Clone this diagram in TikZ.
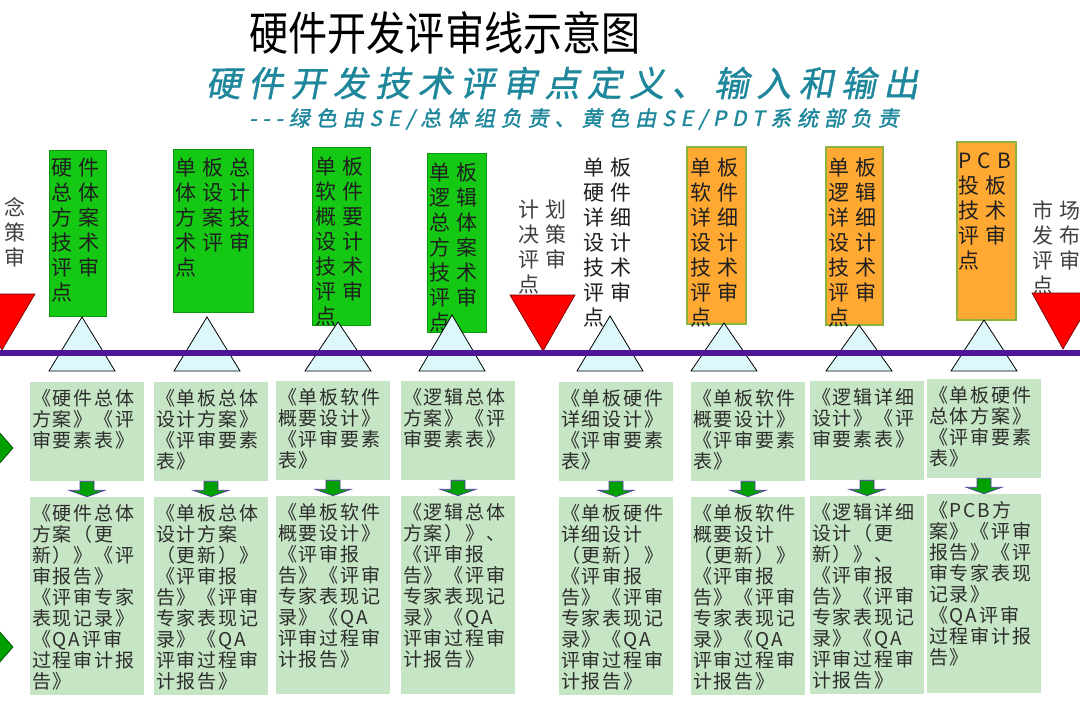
\documentclass[tikz,border=0pt]{standalone}
\usepackage{fontspec}
\usepackage{graphicx}
\setmainfont{Noto Sans CJK SC}
\newfontfamily\titlefont{Noto Sans CJK SC}
\newfontfamily\subfont[FakeSlant=0.2,FakeBold=1,LetterSpace=21]{Noto Sans CJK SC}
\newfontfamily\notefont[FakeSlant=0.2,FakeBold=1.5,LetterSpace=28]{Noto Sans CJK SC}
\newfontfamily\topfont[LetterSpace=29]{Noto Sans CJK SC}
\newfontfamily\boxfont[LetterSpace=10]{Noto Sans CJK SC}
\usetikzlibrary{calc,fit}
\definecolor{topgreen}{RGB}{20,200,20}
\definecolor{toporange}{RGB}{255,168,50}
\definecolor{orangeedge}{RGB}{140,180,60}
\definecolor{boxgreen}{RGB}{197,229,196}
\definecolor{tricyan}{RGB}{220,248,250}
\definecolor{linepurple}{RGB}{80,20,150}
\definecolor{decred}{RGB}{255,0,0}
\definecolor{arrowgreen}{RGB}{0,160,0}
\definecolor{arrowedge}{RGB}{90,60,170}
\definecolor{subteal}{RGB}{30,135,155}
\definecolor{txtgray}{RGB}{45,45,45}
\tikzset{
  topbox/.style={inner sep=0pt, line width=0.5pt},
  greenbox/.style={topbox, fill=topgreen, draw=topgreen!75!black},
  orangebox/.style={topbox, fill=toporange, draw=orangeedge, line width=0.8pt},
  toptext/.style={anchor=north west, inner sep=0pt, align=left,
    font=\topfont\fontsize{15.75}{18.75}\selectfont, text=black!88},
  dectext/.style={toptext, text=black!75},
  iobox/.style={fill=boxgreen, inner sep=0pt},
  iotext/.style={anchor=north west, inner sep=0pt, align=left,
    font=\boxfont\fontsize{14.25}{15.75}\selectfont, text=txtgray},
  revtri/.style={fill=tricyan, draw=black, line width=0.6pt},
  dectri/.style={fill=decred, draw=red!45!black, line width=0.5pt},
  garrow/.style={fill=arrowgreen, draw=arrowedge, line width=0.5pt},
  diam/.style={fill=arrowgreen, draw=green!30!black, line width=0.5pt},
  timeline/.style={line width=4.5pt, draw=linepurple}
}
\newcommand{\revpoint}[2]{\draw[revtri] (#1,#2) -- (#1+33,371) -- (#1-33,371) -- cycle;}
\newcommand{\greenarrow}[2]{%
  \draw[garrow] ($(#1.south)+(-7,0)$) -- ($(#1.south)+(7,0)$) -- ($(#1.south)+(7,9)$)
    -- ($(#1.south)+(18,9)$) -- (#2.north) -- ($(#1.south)+(-18,9)$)
    -- ($(#1.south)+(-7,9)$) -- cycle;}
\begin{document}
\begin{tikzpicture}[x=0.75pt,y=-0.75pt]
\path[use as bounding box] (0,0) rectangle (1080,702);
\fill[white] (0,0) rectangle (1080,702);
\clip (0,0) rectangle (1080,702);

% titles
\node[font=\titlefont\fontsize{34.5}{36}\selectfont, inner sep=0pt] (title) at (445,33)
  {\scalebox{0.85}[1]{硬件开发评审线示意图}};
\node[font=\subfont\fontsize{26.25}{28}\selectfont, text=subteal, inner sep=0pt] (subtitle) at (562,83)
  {硬件开发技术评审点定义、输入和输出};
\node[font=\notefont\fontsize{15.75}{17}\selectfont, text=subteal, inner sep=0pt] (note) at (574,119)
  {---绿色由SE/总体组负责、黄色由SE/PDT系统部负责};

% top review boxes
\node[greenbox, fit={(49,150)(106,316)}] (b1) {};
\node[toptext] (b1t) at (51,158) {硬件\\总体\\方案\\技术\\评审\\点};
\node[greenbox, fit={(173,149)(253,312)}] (b2) {};
\node[toptext] (b2t) at (175,158) {单板总\\体设计\\方案技\\术评审\\点};
\node[greenbox, fit={(312,147)(370,325)}] (b3) {};
\node[toptext] (b3t) at (315,157) {单板\\软件\\概要\\设计\\技术\\评审\\点};
\node[greenbox, fit={(427,153)(486,332)}] (b4) {};
\node[toptext] (b4t) at (429,163) {单板\\逻辑\\总体\\方案\\技术\\评审\\点};
\node[toptext] (b5t) at (583,158) {单板\\硬件\\详细\\设计\\技术\\评审\\点};
\node[orangebox, fit={(687,147)(746,324)}] (b6) {};
\node[toptext] (b6t) at (690,158) {单板\\软件\\详细\\设计\\技术\\评审\\点};
\node[orangebox, fit={(826,147)(883,325)}] (b7) {};
\node[toptext] (b7t) at (828,158) {单板\\逻辑\\详细\\设计\\技术\\评审\\点};
\node[orangebox, fit={(957,142)(1016,320)}] (b8) {};
\node[toptext] (b8t) at (958,153) {PCB\\投板\\技术\\评审\\点};

% decision labels
\node[dectext] (d1t) at (4,197) {念\\策\\审};
\node[dectext] (d2t) at (518,200) {计划\\决策\\评审\\点};
\node[dectext] (d3t) at (1032,200) {市场\\发布\\评审\\点};

% review triangles
\revpoint{82}{317}
\revpoint{207}{317}
\revpoint{338}{322}
\revpoint{452}{315}
\revpoint{610}{316}
\revpoint{724}{323}
\revpoint{859}{325}
\revpoint{984}{320}

% decision triangles
\draw[dectri] (-31,294) -- (35,294) -- (2,350) -- cycle;
\draw[dectri] (510,295) -- (575,295) -- (543,351) -- cycle;
\draw[dectri] (1032,293) -- (1096,293) -- (1063,349) -- cycle;

% timeline
\draw[timeline] (-5,353) -- (1085,353);

% left diamonds
\draw[diam] (13,448) -- (-15,416) -- (-43,448) -- (-15,480) -- cycle;
\draw[diam] (13,647) -- (-15,615) -- (-43,647) -- (-15,679) -- cycle;

% input boxes
\node[iobox, fit={(30,382)(144,481)}] (in1) {};
\node[iobox, fit={(154,382)(268,481)}] (in2) {};
\node[iobox, fit={(276,381)(390,480)}] (in3) {};
\node[iobox, fit={(401,381)(515,480)}] (in4) {};
\node[iobox, fit={(559,382)(673,481)}] (in5) {};
\node[iobox, fit={(691,382)(805,481)}] (in6) {};
\node[iobox, fit={(810,381)(924,480)}] (in7) {};
\node[iobox, fit={(927,379)(1041,478)}] (in8) {};

% output boxes
\node[iobox, fit={(30,497)(144,695)}] (out1) {};
\node[iobox, fit={(154,497)(268,695)}] (out2) {};
\node[iobox, fit={(276,496)(390,694)}] (out3) {};
\node[iobox, fit={(401,496)(515,694)}] (out4) {};
\node[iobox, fit={(559,497)(673,695)}] (out5) {};
\node[iobox, fit={(691,497)(805,695)}] (out6) {};
\node[iobox, fit={(810,496)(924,694)}] (out7) {};
\node[iobox, fit={(927,494)(1041,693)}] (out8) {};

% input texts
\node[iotext] (in1t) at ($(in1.north west)+(2,7)$) {《硬件总体\\方案》《评\\审要素表》};
\node[iotext] (in2t) at ($(in2.north west)+(2,7)$) {《单板总体\\设计方案》\\《评审要素\\表》};
\node[iotext] (in3t) at ($(in3.north west)+(2,7)$) {《单板软件\\概要设计》\\《评审要素\\表》};
\node[iotext] (in4t) at ($(in4.north west)+(2,7)$) {《逻辑总体\\方案》《评\\审要素表》};
\node[iotext] (in5t) at ($(in5.north west)+(2,7)$) {《单板硬件\\详细设计》\\《评审要素\\表》};
\node[iotext] (in6t) at ($(in6.north west)+(2,7)$) {《单板软件\\概要设计》\\《评审要素\\表》};
\node[iotext] (in7t) at ($(in7.north west)+(2,7)$) {《逻辑详细\\设计》《评\\审要素表》};
\node[iotext] (in8t) at ($(in8.north west)+(2,7)$) {《单板硬件\\总体方案》\\《评审要素\\表》};

% output texts
\node[iotext] (out1t) at ($(out1.north west)+(2,7)$) {《硬件总体\\方案（更\\新）》《评\\审报告》\\《评审专家\\表现记录》\\《QA评审\\过程审计报\\告》};
\node[iotext] (out2t) at ($(out2.north west)+(2,7)$) {《单板总体\\设计方案\\（更新）》\\《评审报\\告》《评审\\专家表现记\\录》《QA\\评审过程审\\计报告》};
\node[iotext] (out3t) at ($(out3.north west)+(2,7)$) {《单板软件\\概要设计》\\《评审报\\告》《评审\\专家表现记\\录》《QA\\评审过程审\\计报告》};
\node[iotext] (out4t) at ($(out4.north west)+(2,7)$) {《逻辑总体\\方案）》、\\《评审报\\告》《评审\\专家表现记\\录》《QA\\评审过程审\\计报告》};
\node[iotext] (out5t) at ($(out5.north west)+(2,7)$) {《单板硬件\\详细设计\\（更新）》\\《评审报\\告》《评审\\专家表现记\\录》《QA\\评审过程审\\计报告》};
\node[iotext] (out6t) at ($(out6.north west)+(2,7)$) {《单板软件\\概要设计\\（更新）》\\《评审报\\告》《评审\\专家表现记\\录》《QA\\评审过程审\\计报告》};
\node[iotext] (out7t) at ($(out7.north west)+(2,7)$) {《逻辑详细\\设计（更\\新）》、\\《评审报\\告》《评审\\专家表现记\\录》《QA\\评审过程审\\计报告》};
\node[iotext] (out8t) at ($(out8.north west)+(2,7)$) {《PCB方\\案》《评审\\报告》《评\\审专家表现\\记录》\\《QA评审\\过程审计报\\告》};

% arrows input -> output
\greenarrow{in1}{out1}
\greenarrow{in2}{out2}
\greenarrow{in3}{out3}
\greenarrow{in4}{out4}
\greenarrow{in5}{out5}
\greenarrow{in6}{out6}
\greenarrow{in7}{out7}
\greenarrow{in8}{out8}
\end{tikzpicture}
\end{document}
